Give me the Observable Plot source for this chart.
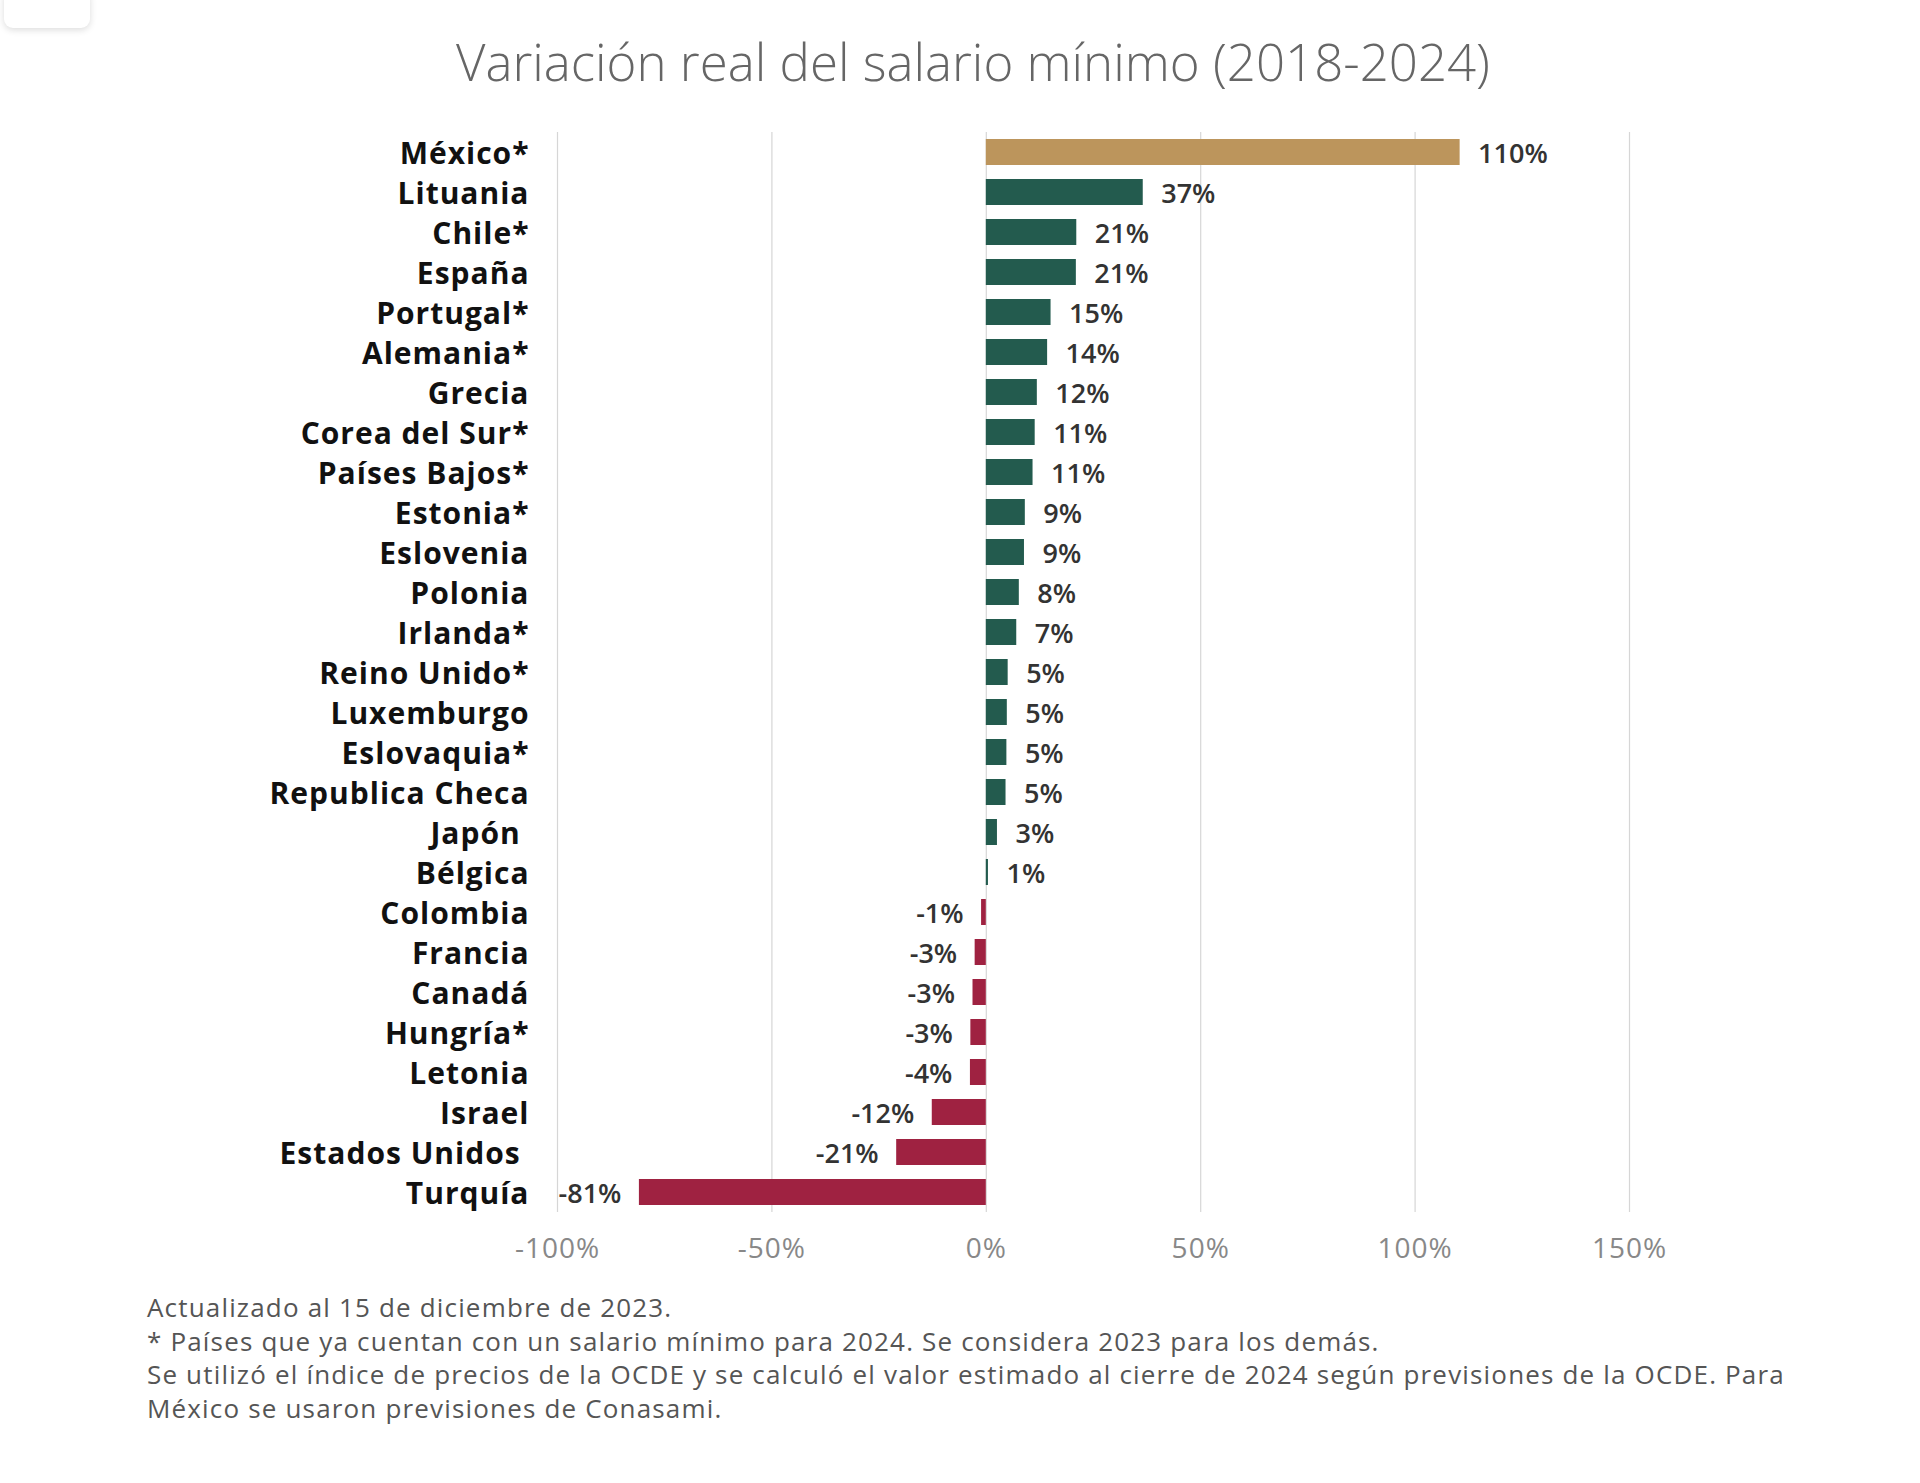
<!DOCTYPE html>
<html>
<head>
<meta charset="utf-8">
<script src="https://cdn.jsdelivr.net/npm/d3@7"></script>
<script src="https://cdn.jsdelivr.net/npm/@observablehq/plot@0.6"></script>
<style>
  html, body { margin: 0; padding: 0; background: #fff; }
  body { width: 1920px; height: 1483px; position: relative; overflow: hidden; font-family: "Open Sans", "Noto Sans", sans-serif; }
  #tab { position: absolute; left: 4px; top: -12px; width: 86px; height: 40px; border-radius: 9px; background: #fff; box-shadow: 0 2px 7px rgba(0,0,0,0.14); }
  #title { height: 110px; box-sizing: border-box; padding-top: 29px; padding-left: 26px; text-align: center; font-size: 51px; font-weight: 300; color: #666; line-height: 64px; }
  #chart { height: 1172px; }
  #caption { margin-top: 9px; padding-left: 147px; font-size: 26px; line-height: 33.5px; color: #555; letter-spacing: 1.17px; white-space: nowrap; }
  g[aria-label="y-axis tick label"] text { letter-spacing: 1px; }
  g[aria-label="x-axis tick label"] text { letter-spacing: 1px; }
</style>
</head>
<body>
<div id="tab"></div>
<div id="title">Variación real del salario mínimo (2018-2024)</div>
<div id="chart"></div>
<div id="caption">
Actualizado al 15 de diciembre de 2023.<br>
* Países que ya cuentan con un salario mínimo para 2024. Se considera 2023 para los demás.<br>
Se utilizó el índice de precios de la OCDE y se calculó el valor estimado al cierre de 2024 según previsiones de la OCDE. Para<br>
México se usaron previsiones de Conasami.
</div>
<script>
const countries = ["México*", "Lituania", "Chile*", "España", "Portugal*", "Alemania*", "Grecia", "Corea del Sur*", "Países Bajos*", "Estonia*", "Eslovenia", "Polonia", "Irlanda*", "Reino Unido*", "Luxemburgo", "Eslovaquia*", "Republica Checa", "Japón\u00a0", "Bélgica", "Colombia", "Francia", "Canadá", "Hungría*", "Letonia", "Israel", "Estados Unidos\u00a0", "Turquía"];
const values = [110.5, 36.6, 21.1, 21.0, 15.1, 14.3, 11.9, 11.4, 10.9, 9.1, 8.9, 7.7, 7.1, 5.1, 4.9, 4.8, 4.6, 2.6, 0.5, -1.1, -2.6, -3.1, -3.6, -3.7, -12.6, -20.9, -80.9];
const labels = ["110%", "37%", "21%", "21%", "15%", "14%", "12%", "11%", "11%", "9%", "9%", "8%", "7%", "5%", "5%", "5%", "5%", "3%", "1%", "-1%", "-3%", "-3%", "-3%", "-4%", "-12%", "-21%", "-81%"];
const xTicks = [-100, -50, 0, 50, 100, 150];
const groups = ["mx", "pos", "neg"];
const groupColors = ["#BC955C", "#235B4E", "#9F2241"];

const data = countries.map((c, i) => ({
  country: c, value: values[i], label: labels[i],
  group: i === 0 ? "mx" : (values[i] >= 0 ? "pos" : "neg")
}));

const chart = Plot.plot({
  width: 1920,
  height: 1172,
  marginTop: 22,
  marginBottom: 70,
  marginLeft: 557,
  marginRight: 291,
  style: { fontFamily: "'Open Sans', 'Noto Sans', sans-serif", background: "#fff" },
  x: { domain: [-100, 150] },
  y: { domain: countries, paddingInner: 0.35, paddingOuter: 0.175 },
  color: { domain: groups, range: groupColors },
  marks: [
    Plot.gridX(xTicks, { stroke: "#d6d6d6", strokeOpacity: 1, strokeWidth: 1.2 }),
    Plot.barX(data, { x: "value", y: "country", fill: "group" }),
    Plot.text(data.filter(d => d.value >= 0), { x: "value", y: "country", text: "label", dx: 18, dy: 2, textAnchor: "start", fontSize: 27, fontWeight: 600, fill: "#333" }),
    Plot.text(data.filter(d => d.value < 0), { x: "value", y: "country", text: "label", dx: -18, dy: 2, textAnchor: "end", fontSize: 27, fontWeight: 600, fill: "#333" }),
    Plot.axisY({ tickSize: 0, tickPadding: 28, dy: 2, fontSize: 30, fontWeight: "bold", fill: "#111", label: null }),
    Plot.axisX({ ticks: xTicks, tickFormat: d => d + "%", tickSize: 0, tickPadding: 26, fontSize: 28, fill: "#888", label: null })
  ]
});
document.getElementById("chart").appendChild(chart);
</script>
</body>
</html>
